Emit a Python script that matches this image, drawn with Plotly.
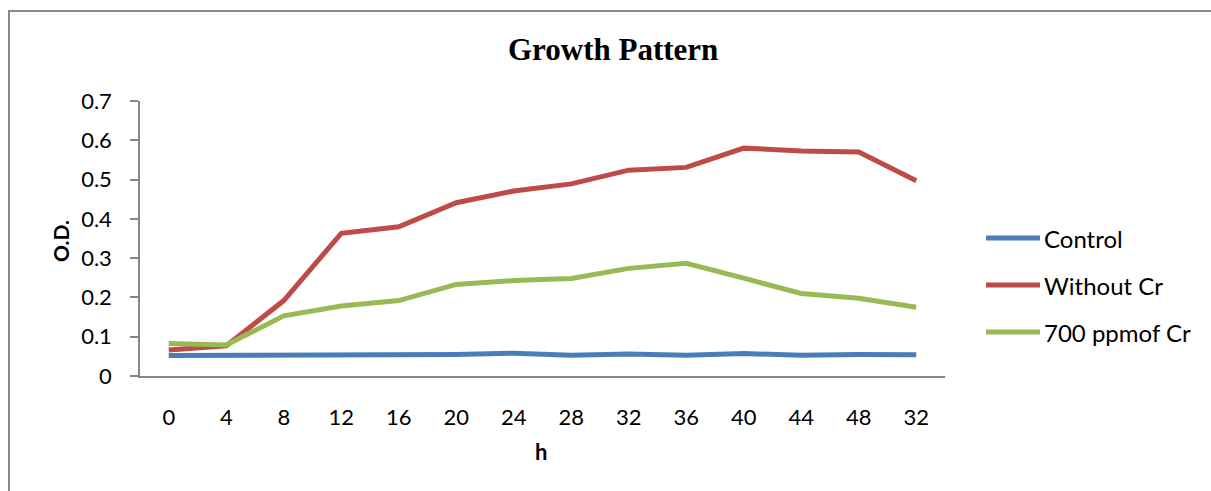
import plotly.graph_objects as go

# Sampling times (h) as printed on the category axis
hours = ["0", "4", "8", "12", "16", "20", "24", "28", "32", "36", "40", "44", "48", "32"]

# Optical density readings per series
control = [0.052, 0.052, 0.054, 0.054, 0.055, 0.055, 0.058, 0.053, 0.056, 0.053, 0.057, 0.053, 0.055, 0.054]
without_cr = [0.066, 0.077, 0.192, 0.363, 0.380, 0.441, 0.471, 0.489, 0.524, 0.531, 0.580, 0.573, 0.570, 0.497]
cr_700 = [0.083, 0.079, 0.153, 0.178, 0.192, 0.233, 0.243, 0.248, 0.274, 0.287, 0.249, 0.210, 0.198, 0.175]

series_names = ["Control", "Without Cr", "700 ppmof Cr"]
series_values = [control, without_cr, cr_700]
series_colors = ["#4A7EBB", "#BE4B48", "#98B954"]

y_ticks = [0, 0.1, 0.2, 0.3, 0.4, 0.5, 0.6, 0.7]
y_tick_text = ["0", "0.1", "0.2", "0.3", "0.4", "0.5", "0.6", "0.7"]

W, H = 1211, 491
PX0, PX1, PY0, PY1 = 140, 945, 101, 376  # plot area in pixels


def fx(px):
    return (px - PX0) / (PX1 - PX0)


def fy(py):
    return (PY1 - py) / (PY1 - PY0)


SANS = "Lato, 'Open Sans', sans-serif"
idx = list(range(len(hours)))

fig = go.Figure()
for name, vals, col in zip(series_names, series_values, series_colors):
    fig.add_trace(go.Scatter(
        x=idx, y=vals, mode="lines", name=name,
        line=dict(color=col, width=5), showlegend=False,
    ))

fig.update_layout(
    width=W, height=H,
    margin=dict(l=PX0, r=W - PX1, t=PY0, b=H - PY1),
    paper_bgcolor="white", plot_bgcolor="white",
    font=dict(family=SANS, size=21, color="black"),
    xaxis=dict(
        range=[-0.5, len(hours) - 0.5],
        tickvals=idx, ticktext=hours,
        showgrid=False, zeroline=False,
        showline=True, linecolor="#868686", linewidth=1.5,
        ticks="", ticklabelstandoff=21,
        tickfont=dict(family=SANS, size=22),
    ),
    yaxis=dict(
        range=[0, 0.7],
        tickvals=y_ticks, ticktext=y_tick_text,
        showgrid=False, zeroline=False,
        showline=True, linecolor="#868686", linewidth=1.5,
        ticks="outside", ticklen=8, tickcolor="#868686", tickwidth=1.5,
        ticklabelstandoff=14,
        tickfont=dict(family=SANS, size=22),
    ),
)

annotations = [
    dict(text="<b>Growth Pattern</b>", x=fx(613), y=fy(50), xref="paper", yref="paper",
         showarrow=False, xanchor="center", yanchor="middle",
         font=dict(family="'Liberation Serif', 'Times New Roman', serif", size=31)),
    dict(text="<b>O.D.</b>", x=fx(61), y=fy(241), xref="paper", yref="paper",
         showarrow=False, xanchor="center", yanchor="middle", textangle=-90,
         font=dict(family=SANS, size=21)),
    dict(text="<b>h</b>", x=fx(541), y=fy(451), xref="paper", yref="paper",
         showarrow=False, xanchor="center", yanchor="middle",
         font=dict(family=SANS, size=22)),
]

shapes = [
    # chart frame
    dict(type="line", xref="paper", yref="paper", x0=fx(8), x1=fx(W + 5), y0=fy(11), y1=fy(11),
         line=dict(color="#888888", width=2)),
    dict(type="line", xref="paper", yref="paper", x0=fx(9), x1=fx(9), y0=fy(11), y1=fy(H + 5),
         line=dict(color="#888888", width=2)),
]

# legend keys
legend_rows = [238, 285, 332]
for name, col, py in zip(series_names, series_colors, legend_rows):
    shapes.append(dict(type="line", xref="paper", yref="paper",
                       x0=fx(986), x1=fx(1040), y0=fy(py), y1=fy(py),
                       line=dict(color=col, width=5)))
    annotations.append(dict(text=name, x=fx(1042), y=fy(py), xref="paper", yref="paper",
                            showarrow=False, xanchor="left", yanchor="middle",
                            font=dict(family=SANS, size=24)))

fig.update_layout(annotations=annotations, shapes=shapes)
fig.write_html("out.html")
